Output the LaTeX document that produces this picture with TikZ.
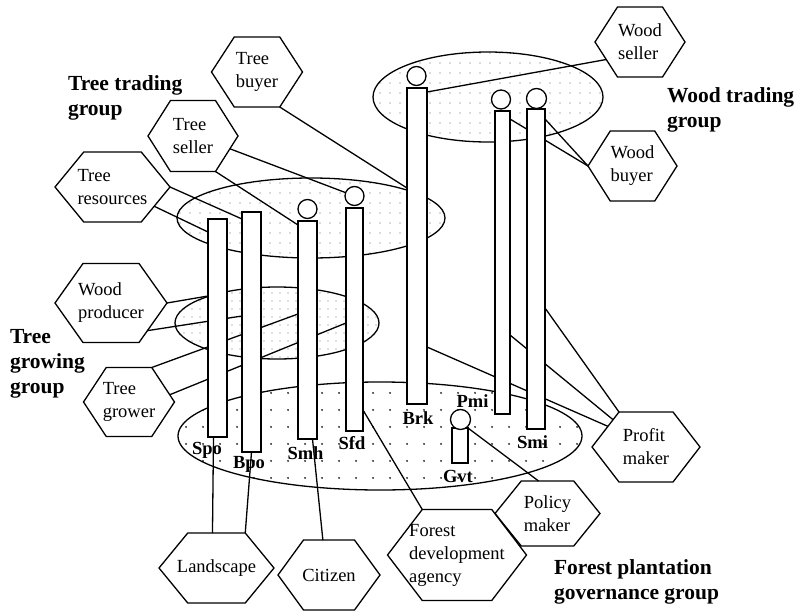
\documentclass[tikz,border=0pt]{standalone}
\usepackage{fontspec}
\setmainfont{Liberation Serif}
\usetikzlibrary{calc,patterns.meta}
\pgfdeclarelayer{bg}
\pgfdeclarelayer{lines}
\pgfsetlayers{bg,lines,main}
\newcommand\hexdraw[1]{%
  \coordinate (#1-l) at (#1.west);
  \coordinate (#1-r) at (#1.east);
  \coordinate (#1-tl) at ($(#1.north west)!0.25!(#1.north east)$);
  \coordinate (#1-tr) at ($(#1.north west)!0.75!(#1.north east)$);
  \coordinate (#1-bl) at ($(#1.south west)!0.25!(#1.south east)$);
  \coordinate (#1-br) at ($(#1.south west)!0.75!(#1.south east)$);
  \draw[hexline] (#1-l) -- (#1-tl) -- (#1-tr) -- (#1-r) -- (#1-br) -- (#1-bl) -- cycle;}
\begin{document}
\begin{tikzpicture}[x=1pt,y=-1pt,
  every node/.style={inner sep=0pt, outer sep=0pt},
  hexa/.style n args={2}{minimum width=#1pt, minimum height=#2pt, align=left, font=\fontsize{18.5}{23}\selectfont},
  hexline/.style={line width=1.3pt, line join=miter},
  bar/.style={draw, fill=white, line width=1.3pt},
  head/.style={circle, draw, fill=white, line width=1.3pt, minimum size=#1pt},
  lbl/.style={font=\fontsize{18.5}{22}\selectfont\bfseries},
  grp/.style={font=\fontsize{21.5}{25}\selectfont\bfseries, align=left, anchor=west},
  conn/.style={line width=1.3pt},
  field/.style={draw, line width=1.3pt},
  bigdots/.style={pattern={Dots[distance=17pt,radius=1.1pt]}, pattern color=black!85},
  smalldots/.style={pattern={Dots[distance=10pt,radius=0.7pt]}, pattern color=black!60},
  finedots/.style={pattern={Dots[distance=8pt,radius=0.6pt]}, pattern color=black!55},
]
\useasboundingbox (0,0) rectangle (795,613);

% group fields
\begin{pgfonlayer}{bg}
\fill[white] (0,0) rectangle (795,613);
\draw[field, bigdots] (380,436) ellipse [x radius=202pt, y radius=54pt];
\draw[field, smalldots] (311,218) ellipse [x radius=134pt, y radius=40pt];
\draw[field, smalldots] (488,97) ellipse [x radius=115pt, y radius=45pt];
\draw[field, finedots] (277,323) ellipse [x radius=102pt, y radius=36pt];
\end{pgfonlayer}

% bars
\node[bar, minimum width=19pt, minimum height=218pt] (spo) at (217.5,328) {};
\node[bar, minimum width=19pt, minimum height=240pt] (bpo) at (251.5,332) {};
\node[bar, minimum width=19pt, minimum height=218pt] (smh) at (307.5,330) {};
\node[bar, minimum width=17pt, minimum height=223pt] (sfd) at (354.5,319.5) {};
\node[bar, minimum width=20pt, minimum height=316pt] (brk) at (417,246) {};
\node[bar, minimum width=15pt, minimum height=303pt] (pmi) at (502.5,262.5) {};
\node[bar, minimum width=18pt, minimum height=320pt] (smi) at (536,269) {};
\node[bar, minimum width=16pt, minimum height=35pt] (gvt) at (460,445.5) {};

% heads
\node[head=19] (smhh) at (307.5,209) {};
\node[head=19] (sfdh) at (354.5,196) {};
\node[head=19] (brkh) at (416.5,76) {};
\node[head=19] (pmih) at (501,99.5) {};
\node[head=20] (smih) at (536.5,98.5) {};
\node[head=20] (gvth) at (460.5,419.5) {};

% bar labels
\node[lbl] (lspo) at (207,450) {Spo};
\node[lbl] (lbpo) at (249,464) {Bpo};
\node[lbl] (lsmh) at (305.5,453) {Smh};
\node[lbl] (lsfd) at (352,443.5) {Sfd};
\node[lbl] (lbrk) at (418,418) {Brk};
\node[lbl] (lpmi) at (472.5,401) {Pmi};
\node[lbl] (lgvt) at (458,476) {Gvt};
\node[lbl] (lsmi) at (532.5,442.5) {Smi};

% role hexagons
\node[hexa={91}{70}] (tb) at (257,72) {Tree\\buyer}; \hexdraw{tb}
\node[hexa={90}{71}] (ts) at (193,136) {Tree\\seller}; \hexdraw{ts}
\node[hexa={115}{70}] (tr) at (112.5,187) {Tree\\resources}; \hexdraw{tr}
\node[hexa={112}{79}] (wp) at (111,303) {Wood\\producer}; \hexdraw{wp}
\node[hexa={91}{69}] (tg) at (129,402) {Tree\\grower}; \hexdraw{tg}
\node[hexa={115}{70}] (ls) at (216.5,568) {Landscape}; \hexdraw{ls}
\node[hexa={102}{70}] (ci) at (329,575) {Citizen}; \hexdraw{ci}
\node[hexa={139}{91}] (fda) at (457,555) {Forest\\development\\agency}; \hexdraw{fda}
\node[hexa={105}{65}] (pm) at (547.5,513.5) {Policy\\maker}; \hexdraw{pm}
\node[hexa={108}{70}] (prm) at (646,447) {Profit\\maker}; \hexdraw{prm}
\node[hexa={90}{70}] (ws) at (640,42) {Wood\\seller}; \hexdraw{ws}
\node[hexa={89}{70}] (wb) at (632.5,166) {Wood\\buyer}; \hexdraw{wb}

% group titles
\node[grp] (gtt) at (68,97.5) {Tree trading\\group};
\node[grp] (gwt) at (667,109.5) {Wood trading\\group};
\node[grp] (gtg) at (10,364) {Tree\\growing\\group};
\node[grp] (gfp) at (554,581.5) {Forest plantation\\governance group};

% connectors
\begin{pgfonlayer}{lines}
\draw[conn] (tb-br) -- ($(brk.north west)+(0,100)$);
\draw[conn] ($(ts-r)!0.36!(ts-br)$) -- (sfdh);
\draw[conn] (ts-br) -- ($(smh.north west)+(0,4)$);
\draw[conn] (tr-r) -- ($(bpo.north west)+(0,7)$);
\draw[conn] ($(tr-r)!0.55!(tr-br)$) -- ($(spo.north west)+(0,13)$);
\draw[conn] (wp-r) -- ($(spo.north west)+(0,77)$);
\draw[conn] ($(wp-r)!0.7!(wp-br)$) -- ($(bpo.north west)+(0,104)$);
\draw[conn] (tg-tr) -- ($(smh.north west)+(0,93)$);
\draw[conn] ($(tg-tr)!0.79!(tg-r)$) -- ($(sfd.north west)+(0,115)$);
\draw[conn] ($(brk.north east)+(0,4)$) -- ($(ws-l)!0.5!(ws-bl)$);
\draw[conn] ($(pmi.north east)+(0,8)$) -- (wb-l);
\draw[conn] ($(smi.north east)+(0,10)$) -- (wb-l);
\draw[conn] ($(smi.north east)+(0,199)$) -- (prm-tl);
\draw[conn] ($(pmi.north east)+(0,224)$) -- ($(prm-tl)!0.22!(prm-l)$);
\draw[conn] ($(brk.north east)+(0,259)$) -- ($(prm-tl)!0.41!(prm-l)$);
\draw[conn] ($(spo.south)+(-4,0)$) -- ($(ls-tl)!0.43!(ls-tr)$);
\draw[conn] (bpo.south) -- (ls-tr);
\draw[conn] ($(smh.south)+(5,0)$) -- ($(ci-tl)!0.38!(ci-tr)$);
\draw[conn] ($(sfd.south east)+(0,-21)$) -- (fda-tl);
\draw[conn] (gvt.north east) -- ($(pm-tl)!0.33!(pm-tr)$);
\end{pgfonlayer}
\end{tikzpicture}
\end{document}
